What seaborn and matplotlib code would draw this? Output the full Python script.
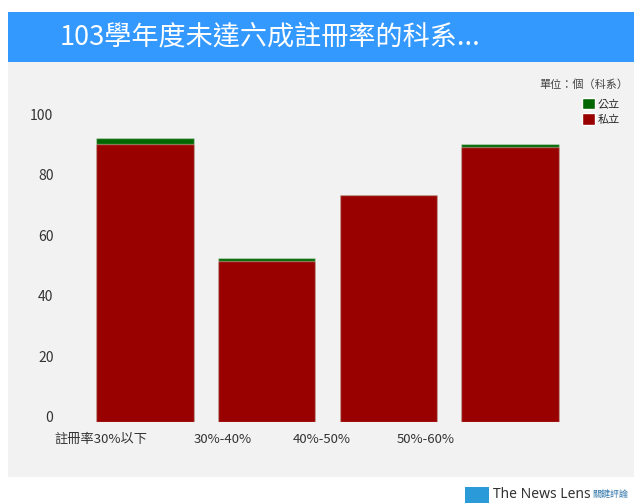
import pandas as pd
import matplotlib
matplotlib.use('Agg')
import matplotlib.pyplot as plt
import matplotlib.transforms as mtransforms
from matplotlib.patches import Rectangle, Patch
import seaborn as sns

# 數據
categories = ['註冊率30%以下', '30%-40%', '40%-50%', '50%-60%']
private_counts = [92, 53, 75, 91]   # 私立
public_counts = [2, 1, 0, 1]        # 公立
y_ticks = [0, 20, 40, 60, 80, 100]

sns.set_style('white')
plt.rcParams['font.family'] = ['Noto Sans CJK TC', 'DejaVu Sans']
plt.rcParams['axes.unicode_minus'] = False

RED = '#990000'
GREEN = '#006600'
BLUE = '#3399ff'
PANEL = '#f2f2f2'

df = pd.DataFrame({'科系': categories, '私立': private_counts, '公立': public_counts})
df['合計'] = df['私立'] + df['公立']

W, H = 634, 503
fig = plt.figure(figsize=(W / 100, H / 100), dpi=100)
fig.patch.set_facecolor('white')

# 灰色底板 + 藍色標題列
fig.patches.append(Rectangle((8 / W, (H - 477) / H), (W - 8) / W, (477 - 62) / H,
                             transform=fig.transFigure, facecolor=PANEL, edgecolor='none', zorder=-2))
fig.patches.append(Rectangle((8 / W, (H - 62) / H), (W - 8) / W, 50 / H,
                             transform=fig.transFigure, facecolor=BLUE, edgecolor='none', zorder=-2))
fig.text(60 / W, (H - 37) / H, '103學年度未達六成註冊率的科系...', color='white',
         fontsize=19.5, ha='left', va='center')

ax = fig.add_axes([84 / W, (H - 421.5) / H, 487 / W, 302 / H])
ax.set_facecolor('none')

# 堆疊長條：先畫合計(綠)，再蓋上私立(紅)
edge = (1, 1, 1, 0.35)
sns.barplot(data=df, x='科系', y='合計', color=GREEN, saturation=1, width=0.8,
            edgecolor=edge, linewidth=1, ax=ax)
sns.barplot(data=df, x='科系', y='私立', color=RED, saturation=1, width=0.8,
            edgecolor=edge, linewidth=1, ax=ax)

ax.set_xlim(-0.5, 3.5)
ax.set_ylim(0, 100)
ax.set_yticks(y_ticks)
ax.set_xlabel('')
ax.set_ylabel('')
for s in ax.spines.values():
    s.set_visible(False)
ax.tick_params(axis='y', length=0, pad=22, labelsize=10, labelcolor='#333333')
ax.tick_params(axis='x', length=0, pad=8, labelsize=9.5, labelcolor='#333333')

# 原圖的分類標籤向左偏移
label_pos = [-0.36, 0.64, 1.45, 2.31]
ax.set_xticks(label_pos)
ax.set_xticklabels(categories)

# y 軸標籤略往上移
off = mtransforms.ScaledTranslation(0, 5 / 100, fig.dpi_scale_trans)
for lab in ax.get_yticklabels():
    lab.set_transform(lab.get_transform() + off)

# 圖例
fig.text(628 / W, (H - 85) / H, '單位：個（科系）', fontsize=8, ha='right', va='center',
         color='#444444')
handles = [Patch(facecolor=GREEN, label='公立'), Patch(facecolor=RED, label='私立')]
fig.legend(handles=handles, loc='upper left', bbox_to_anchor=(582 / W, (H - 98) / H),
           frameon=False, fontsize=8, handlelength=1.2, handleheight=1.2,
           handletextpad=0.2, labelspacing=0.35, borderpad=0, borderaxespad=0)

# 來源標誌
fig.patches.append(Rectangle((465 / W, 0), 24 / W, 16 / H, transform=fig.transFigure,
                             facecolor='#2a9bd8', edgecolor='none'))
fig.text(493 / W, (H - 494) / H, 'The News Lens', fontsize=10, color='#333333',
         ha='left', va='center', family=['Noto Sans', 'DejaVu Sans'])
fig.text(592 / W, (H - 494) / H, '關鍵評論', fontsize=6.5, color='#3377aa',
         ha='left', va='center')

fig.savefig('out.png', dpi=100)
